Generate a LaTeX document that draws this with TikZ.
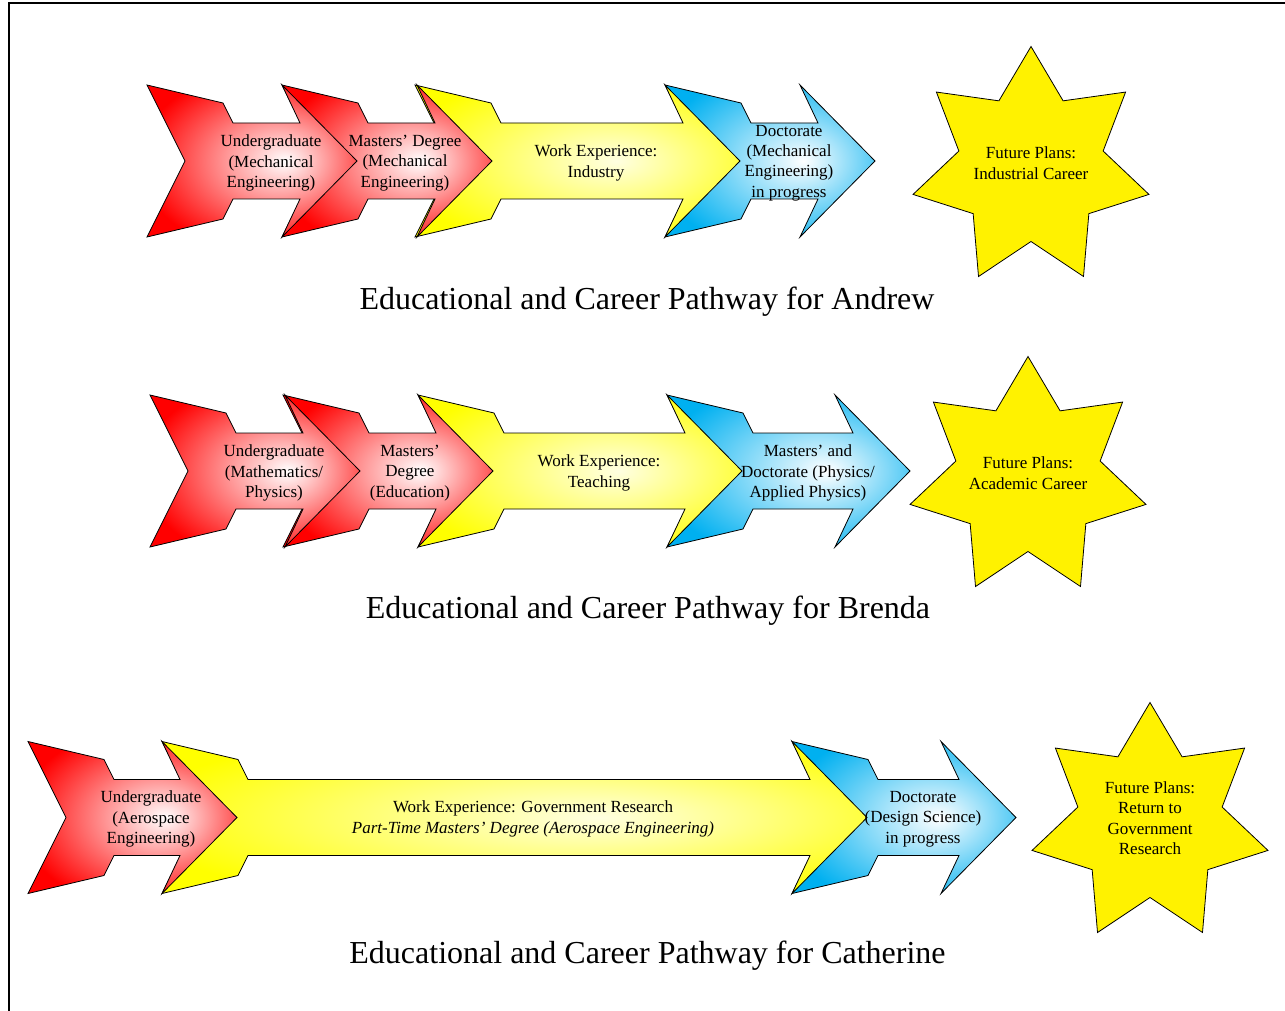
\documentclass[tikz,border=0pt]{standalone}
\usepackage{fontspec}
\setmainfont{Liberation Serif}
\definecolor{skyb}{RGB}{0,176,240}
\definecolor{paleyel}{RGB}{255,255,225}
\pgfdeclareradialshading{redglow}{\pgfpoint{8bp}{0bp}}{color(0bp)=(white); color(30bp)=(red); color(50bp)=(red)}
\pgfdeclareradialshading{yelglow}{\pgfpoint{6bp}{0bp}}{color(0bp)=(paleyel); color(30bp)=(yellow); color(50bp)=(yellow)}
\pgfdeclareradialshading{blueglow}{\pgfpoint{8bp}{0bp}}{color(0bp)=(white); color(30bp)=(skyb); color(50bp)=(skyb)}
\newcommand\pwarrow[4]{%
  \shade[arrowline, shading=#4]
    (#1,{#3-76}) -- ({#1+76},{#3-58}) -- ({#1+86},{#3-38}) -- ({#2-57},{#3-38})
    -- ({#2-75},{#3-76}) -- (#2,#3) -- ({#2-75},{#3+76}) -- ({#2-57},{#3+38})
    -- ({#1+86},{#3+38}) -- ({#1+76},{#3+58}) -- (#1,{#3+76}) -- ({#1+38},#3) -- cycle;}
\newcommand\pwstar[2]{%
  \draw[starline] ({#1+121*cos(90)},{#2-121*sin(90)})
    \foreach \k in {1,...,13}{
      -- ({#1+(mod(\k,2)==0 ? 121 : 74)*cos(90+\k*360/14)},{#2-(mod(\k,2)==0 ? 121 : 74)*sin(90+\k*360/14)})
    } -- cycle;}
\begin{document}
\begin{tikzpicture}[x=1pt,y=-1pt,
  arrowline/.style={draw=black, line width=0.8pt, line join=miter},
  starline/.style={draw=black, fill=yellow, line width=0.8pt},
  lbl/.style={inner sep=0pt, align=center, font=\fontsize{17}{20.4}\selectfont},
  ttl/.style={inner sep=0pt, font=\fontsize{32}{36}\selectfont}]
\useasboundingbox (0,0) rectangle (1285,1011);
\fill[white] (0,0) rectangle (1285,1011);
\draw[line width=1.7pt] (9,1011) -- (9,3) -- (1285,3);
% Row 1
\pwarrow{665}{875}{161}{blueglow}
\pwarrow{415}{740}{161}{yelglow}
\pwarrow{282}{492}{161}{redglow}
\pwarrow{147}{357}{161}{redglow}
\pwstar{1031}{167.5}
% Row 2
\pwarrow{667}{910}{471}{blueglow}
\pwarrow{418}{742}{471}{yelglow}
\pwarrow{283}{493}{471}{redglow}
\pwarrow{150}{360}{471}{redglow}
\pwstar{1028}{477.5}
% Row 3
\pwarrow{792}{1016}{817.5}{blueglow}
\pwarrow{162}{867}{817.5}{yelglow}
\pwarrow{28}{237}{817.5}{redglow}
\pwstar{1150}{823.5}
% Texts row 1
\node[lbl] (au) at (271,163) {Undergraduate\\(Mechanical\\Engineering)};
\node[lbl] (am) at (405,163) {Masters’ Degree\\(Mechanical\\Engineering)};
\node[lbl] (aw) at (596,163) {Work Experience:\\Industry};
\node[lbl] (ad) at (789,163) {Doctorate\\(Mechanical\\Engineering)\\in progress};
\node[lbl] (af) at (1031,163) {Future Plans:\\Industrial Career};
\node[ttl] (at) at (647,302) {Educational and Career Pathway for Andrew};
% Texts row 2
\node[lbl] (bu) at (274,473) {Undergraduate\\(Mathematics/\\Physics)};
\node[lbl] (bm) at (410,473) {Masters’\\Degree\\(Education)};
\node[lbl] (bw) at (599,473) {Work Experience:\\Teaching};
\node[lbl] (bd) at (808,473) {Masters’ and\\Doctorate (Physics/\\Applied Physics)};
\node[lbl] (bf) at (1028,473) {Future Plans:\\Academic Career};
\node[ttl] (bt) at (648,611) {Educational and Career Pathway for Brenda};
% Texts row 3
\node[lbl] (cu) at (151,819) {Undergraduate\\(Aerospace\\Engineering)};
\node[lbl] (cw) at (533,819) {Work Experience: Government Research\\\textit{Part-Time Masters’ Degree (Aerospace Engineering)}};
\node[lbl] (cd) at (923,819) {Doctorate\\(Design Science)\\in progress};
\node[lbl] (cf) at (1150,818) {Future Plans:\\Return to\\Government\\Research};
\node[ttl] (ct) at (647.5,956) {Educational and Career Pathway for Catherine};
\end{tikzpicture}
\end{document}
